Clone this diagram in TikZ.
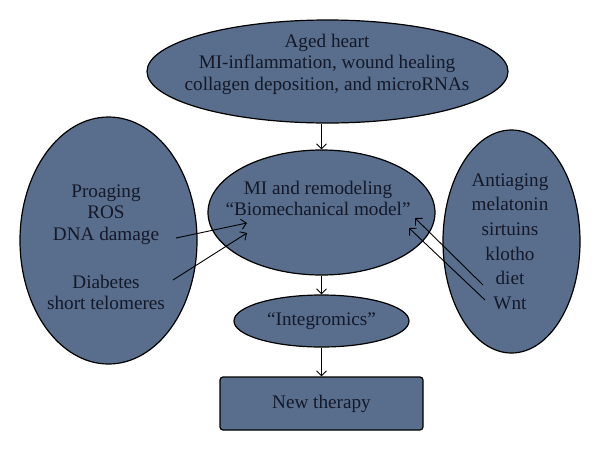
\documentclass[tikz,border=0pt]{standalone}
\usepackage{fontspec}
\setmainfont{Liberation Serif}
\usetikzlibrary{shapes,arrows,arrows.meta,positioning,calc}
\definecolor{slate}{RGB}{88,110,140}
\definecolor{ink}{RGB}{20,24,40}
\tikzset{
  blob/.style={ellipse, draw, fill=slate, line width=1.2pt, inner sep=0pt},
  box/.style={rectangle, rounded corners=3pt, draw, fill=slate, line width=1.2pt, inner sep=0pt},
  txt/.style={align=center, font=\fontsize{19.2}{21.5}\selectfont, text=ink, inner sep=0pt},
  link/.style={-{Straight Barb[length=5pt,width=10pt]}, line width=0.9pt},
}

\begin{document}
\begin{tikzpicture}[x=1pt,y=-1pt]
        \useasboundingbox (0,0) rectangle (600,451);
        % shapes
        \node[blob, minimum width=361, minimum height=103] (aged) at (327.5,71.5) {};
        \node[blob, minimum width=227, minimum height=125] (mid) at (321.5,212.5) {};
        \node[blob, minimum width=175, minimum height=52] (integ) at (321.5,321) {};
        \node[box, minimum width=203, minimum height=53] (therapy) at (321.5,403.5) {};
        \node[blob, minimum width=177, minimum height=247] (pro) at (108.5,240.5) {};
        \node[blob, minimum width=137, minimum height=223] (anti) at (511.5,241.5) {};

        % texts
        \node[txt] (agedtxt) at (327,64) {Aged heart\\MI-inflammation, wound healing\\collagen deposition, and microRNAs};
        \node[txt] (midtxt) at (318,198.5) {MI and remodeling\\``Biomechanical model''};
        \node[txt] at (integ) {``Integromics''};
        \node[txt] at (therapy) {New therapy};
        \node[txt] (protxt) at (106,214.5) {Proaging\\ROS\\DNA damage};
        \node[txt] (diatxt) at (106,292.5) {Diabetes\\short telomeres};
        \node[txt, font=\fontsize{19.2}{24.6}\selectfont] (antitxt) at (510,241.5) {Antiaging\\melatonin\\sirtuins\\klotho\\diet\\Wnt};

        % arrows
        \draw[link] (mid.north |- aged.south) -- (mid.north);
        \draw[link] (integ.north |- mid.south) -- (integ.north);
        \draw[link] (therapy.north |- integ.south) -- (therapy.north);

        \coordinate (p1) at (176,238);
        \coordinate (p2) at (173,280);
        \coordinate (q1) at (247,223);
        \coordinate (q2) at (247,233);
        \draw[link] (p1) -- (q1);
        \draw[link] (p2) -- (q2);

        \coordinate (a1) at (483,285);
        \coordinate (a2) at (485,300);
        \coordinate (b1) at (415,218);
        \coordinate (b2) at (409,228);
        \draw[link] (a1) -- (b1);
        \draw[link] (a2) -- (b2);
    \end{tikzpicture}
\end{document}
